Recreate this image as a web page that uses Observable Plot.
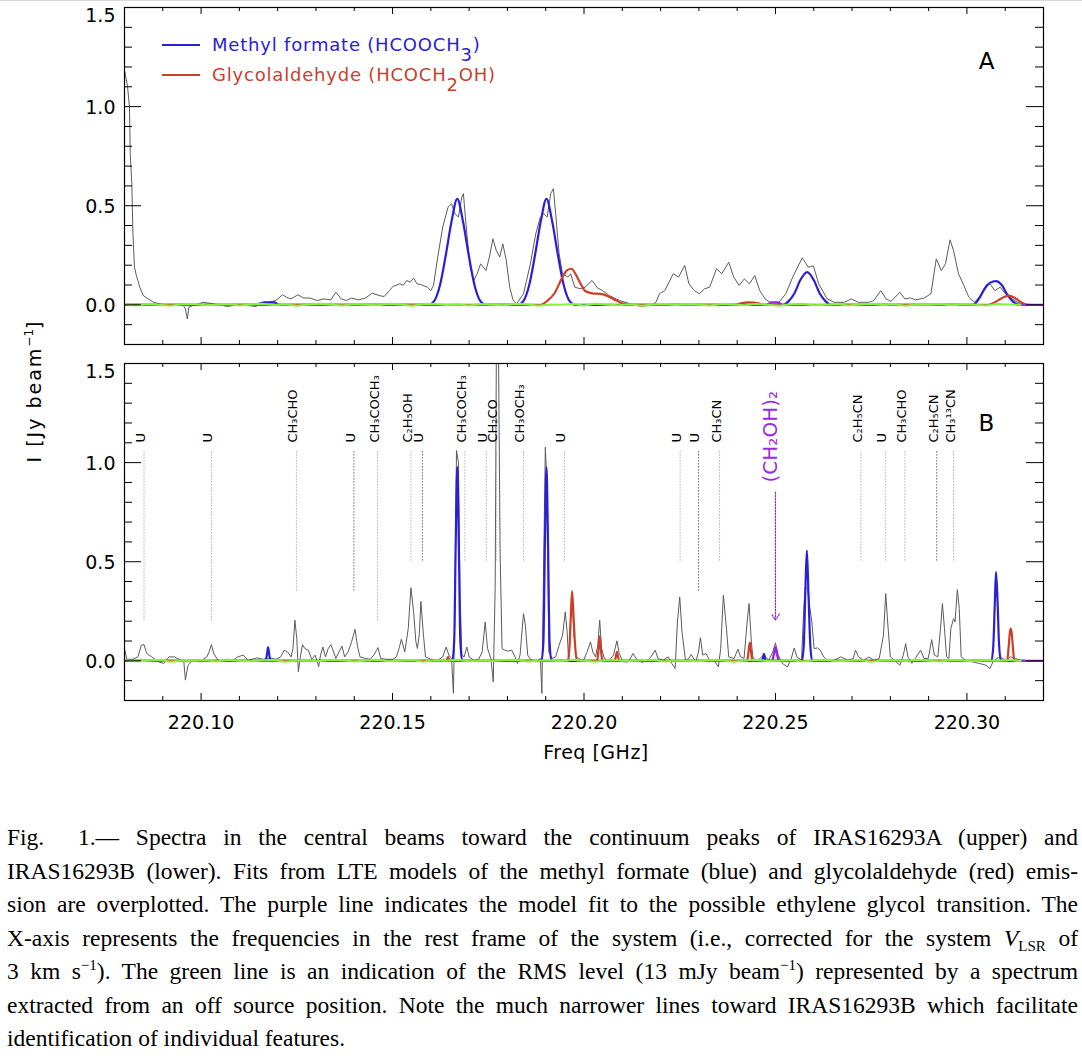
<!DOCTYPE html>
<html>
<head>
<meta charset="utf-8">
<script src="https://cdn.jsdelivr.net/npm/d3@7"></script>
<script src="https://cdn.jsdelivr.net/npm/@observablehq/plot@0.6"></script>
<style>
  body { margin: 0; background: #fff; }
  #wrap { position: relative; width: 1082px; height: 1056px; overflow: hidden; background: #fff; font-family: "DejaVu Sans", sans-serif; }
  #topline { position: absolute; left: 0; top: 0; width: 1082px; height: 1px; background: #d8d8d8; }
  .panel { position: absolute; left: 0; }
  .abs { position: absolute; white-space: nowrap; }
  .legtxt { font-size: 18px; letter-spacing: 0.8px; line-height: 18px; }
  .legtxt sub { font-size: 18px; vertical-align: baseline; position: relative; top: 10px; }
  .sw { position: absolute; height: 2px; width: 38px; }
  #ylab { font-size: 19px; letter-spacing: 2px; transform: translate(-50%, -50%) rotate(-90deg); }
  #ylab sup { font-size: 12px; vertical-align: baseline; position: relative; top: -8px; letter-spacing: 0; }
  #xlab { font-size: 19px; letter-spacing: 0.5px; transform: translate(-50%, -50%); }
  #cap { position: absolute; left: 7px; top: 821px; width: 1071px; font-family: "Liberation Serif", "Times New Roman", serif; font-size: 23.5px; line-height: 33.5px; color: #000; }
  #cap div { text-align: justify; text-align-last: justify; white-space: nowrap; height: 33.5px; }
  #cap div.last { text-align-last: left; }
  #cap sup { font-size: 15px; vertical-align: baseline; position: relative; top: -9px; }
  #cap sub { font-size: 15px; vertical-align: baseline; position: relative; top: 5px; }
</style>
</head>
<body>
<div id="wrap">
  <div id="topline"></div>
  <div id="top" class="panel" style="top:0px"></div>
  <div id="bottom" class="panel" style="top:352px"></div>

  <div class="sw" style="left:162px; top:44px; background:#2b20d6"></div>
  <div class="abs legtxt" style="left:212px; top:36px; color:#2b20d6">Methyl formate (HCOOCH<sub>3</sub>)</div>
  <div class="sw" style="left:162px; top:74px; background:#c8412d"></div>
  <div class="abs legtxt" style="left:212px; top:66px; color:#c8412d">Glycolaldehyde (HCOCH<sub>2</sub>OH)</div>

  <div id="ylab" class="abs" style="left:34px; top:391px">I [Jy beam<sup>−1</sup>]</div>
  <div id="xlab" class="abs" style="left:596px; top:752px">Freq [GHz]</div>

  <div id="cap">
    <div>Fig.&nbsp;&nbsp;1.— Spectra in the central beams toward the continuum peaks of IRAS16293A (upper) and</div>
    <div>IRAS16293B (lower). Fits from LTE models of the methyl formate (blue) and glycolaldehyde (red) emis-</div>
    <div>sion are overplotted. The purple line indicates the model fit to the possible ethylene glycol transition. The</div>
    <div>X-axis represents the frequencies in the rest frame of the system (i.e., corrected for the system <i>V</i><sub>LSR</sub> of</div>
    <div>3 km s<sup>−1</sup>). The green line is an indication of the RMS level (13 mJy beam<sup>−1</sup>) represented by a spectrum</div>
    <div>extracted from an off source position. Note the much narrower lines toward IRAS16293B which facilitate</div>
    <div class="last">identification of individual features.</div>
  </div>
</div>

<script>
// ---------------- DATA ----------------
const freqDomain = [220.08, 220.32];
const intensityDomain = [-0.2, 1.5];
const freqTicksMajor = [220.10, 220.15, 220.20, 220.25, 220.30];
const freqTicksMinor = [220.09, 220.11, 220.12, 220.13, 220.14, 220.16, 220.17, 220.18, 220.19, 220.21, 220.22, 220.23, 220.24, 220.26, 220.27, 220.28, 220.29, 220.31];
const intensityTicksLabelled = [0.0, 0.5, 1.0];
const intensityTickTop = [1.5];
const intensityTicksMajor = [0.0, 0.5, 1.0];
const intensityTicksMinor = [-0.1, 0.1, 0.2, 0.3, 0.4, 0.6, 0.7, 0.8, 0.9, 1.1, 1.2, 1.3, 1.4];

// Panel A: observed spectrum IRAS16293A [freq GHz, Jy/beam]
const spectrumA = [
[220.0801,1.175],[220.0808,1.10],[220.0813,0.998],[220.0815,0.763],[220.0819,0.611],[220.0822,0.359],[220.0826,0.190],[220.0831,0.148],[220.0835,0.123],[220.0840,0.089],[220.0849,0.047],[220.0862,0.030],[220.0876,0.013],[220.0898,0.002],[220.0925,-0.003],[220.0952,0.002],[220.0959,-0.020],[220.0964,-0.071],[220.0968,-0.012],[220.0979,-0.003],[220.1006,0.013],[220.1033,0.005],[220.1069,-0.008],[220.1105,0.002],[220.1141,-0.008],[220.1168,0.008],[220.1195,0.022],[220.1213,0.051],[220.1222,0.039],[220.1235,0.030],[220.1253,0.051],[220.1267,0.035],[220.1285,0.034],[220.1303,0.022],[220.1321,0.030],[220.1339,0.025],[220.1352,0.064],[220.1366,0.030],[220.1379,0.022],[220.1393,0.034],[220.1411,0.025],[220.1429,0.034],[220.1447,0.059],[220.1465,0.047],[220.1478,0.042],[220.1492,0.072],[220.1501,0.093],[220.1519,0.106],[220.1528,0.098],[220.1537,0.123],[220.1546,0.114],[220.1555,0.135],[220.1564,0.106],[220.1573,0.103],[220.1591,0.089],[220.1600,0.072],[220.1607,0.098],[220.1618,0.241],[220.1631,0.392],[220.1645,0.493],[220.1654,0.510],[220.1663,0.460],[220.1672,0.443],[220.1681,0.544],[220.1685,0.561],[220.1694,0.359],[220.1703,0.190],[220.1712,0.123],[220.1721,0.157],[220.1730,0.207],[220.1744,0.173],[220.1753,0.241],[220.1762,0.333],[220.1771,0.274],[220.1780,0.241],[220.1788,0.308],[220.1797,0.224],[220.1806,0.089],[220.1815,0.022],[220.1824,0.005],[220.1842,0.056],[220.1860,0.207],[220.1874,0.359],[220.1886,0.443],[220.1895,0.460],[220.1904,0.443],[220.1913,0.561],[220.1920,0.586],[220.1926,0.460],[220.1935,0.258],[220.1944,0.157],[220.1958,0.140],[220.1965,0.157],[220.1976,0.089],[220.1990,0.081],[220.2003,0.089],[220.2021,0.123],[220.2035,0.086],[220.2048,0.072],[220.2066,0.047],[220.2093,0.022],[220.2121,0.005],[220.2148,-0.008],[220.2175,-0.003],[220.2188,0.013],[220.2197,0.056],[220.2211,0.072],[220.2233,0.157],[220.2247,0.140],[220.2263,0.199],[220.2274,0.106],[220.2288,0.072],[220.2301,0.056],[220.2315,0.081],[220.2328,0.089],[220.2346,0.182],[220.2360,0.157],[220.2378,0.215],[220.2391,0.140],[220.2405,0.098],[220.2419,0.131],[220.2432,0.106],[220.2446,0.148],[220.2459,0.072],[220.2473,0.030],[220.2486,0.013],[220.2509,0.013],[220.2527,0.056],[220.2545,0.140],[220.2570,0.237],[220.2586,0.190],[220.2599,0.197],[220.2613,0.106],[220.2635,0.030],[220.2653,0.013],[220.2680,0.013],[220.2698,0.030],[220.2716,0.013],[220.2744,0.013],[220.2757,0.022],[220.2775,0.072],[220.2789,0.030],[220.2802,0.017],[220.2825,0.064],[220.2838,0.030],[220.2852,0.035],[220.2866,0.025],[220.2888,0.034],[220.2906,0.056],[220.2920,0.232],[220.2933,0.173],[220.2944,0.207],[220.2956,0.328],[220.2965,0.274],[220.2978,0.157],[220.2992,0.098],[220.3005,0.039],[220.3019,0.013],[220.3033,0.039],[220.3051,0.103],[220.3060,0.106],[220.3073,0.072],[220.3087,0.089],[220.3100,0.056],[220.3118,0.030],[220.3132,0.013],[220.3146,0.005]
];
const methylFormateA = [
[220.0800,0],[220.1140,0],[220.1155,0.008],[220.1165,0.012],[220.1190,0.012],[220.1205,0],
[220.1594,0],[220.1609,0.02],[220.1624,0.10],[220.1639,0.25],[220.1654,0.42],[220.1669,0.535],[220.1684,0.42],[220.1699,0.25],[220.1714,0.10],[220.1729,0.02],[220.1744,0],
[220.1827,0],[220.1842,0.02],[220.1857,0.10],[220.1872,0.25],[220.1887,0.42],[220.1902,0.535],[220.1917,0.42],[220.1932,0.25],[220.1947,0.10],[220.1962,0.02],[220.1977,0],
[220.2520,0],[220.2535,0.02],[220.2550,0.06],[220.2565,0.125],[220.2583,0.165],[220.2600,0.125],[220.2615,0.06],[220.2630,0.02],[220.2645,0],
[220.3016,0],[220.3031,0.03],[220.3046,0.08],[220.3061,0.112],[220.3076,0.12],[220.3091,0.10],[220.3106,0.05],[220.3121,0.015],[220.3136,0]
];
const glycolaldehydeA = [
[220.0800,0],[220.1886,0],[220.1904,0.02],[220.1922,0.056],[220.1944,0.14],[220.1956,0.175],[220.1967,0.182],[220.1978,0.155],[220.1990,0.11],[220.2003,0.07],[220.2021,0.058],[220.2044,0.055],[220.2066,0.04],[220.2084,0.022],[220.2102,0.006],[220.2120,0],
[220.2395,0],[220.2410,0.008],[220.2430,0.012],[220.2455,0.008],[220.2470,0],
[220.3055,0],[220.3075,0.015],[220.3092,0.035],[220.3109,0.047],[220.3125,0.035],[220.3140,0.015],[220.3159,0],[220.3165,0]
];
const ethyleneGlycolA = [
[[220.2478,0],[220.2490,0.012],[220.2505,0.012],[220.2518,0]],
[[220.3130,0],[220.3200,0]]
];
const offSourceStart = 220.080, offSourceStep = 0.003;
const offSourceA = [0.002,-0.003,0.004,0.001,-0.004,0.003,0.005,-0.002,0.001,0.004,-0.003,0.002,0.006,-0.001,0.003,-0.004,0.002,0.005,0.000,-0.003,0.004,0.001,-0.002,0.005,0.002,-0.004,0.003,0.006,-0.001,0.002,-0.003,0.004,0.001,-0.002,0.005,0.003,-0.004,0.002,0.000,0.004,-0.003,0.006,0.001,-0.002,0.003,-0.005,0.002,0.004,-0.001,0.003,0.000,-0.003,0.005,0.002,-0.002,0.004,0.001,-0.004,0.003,0.006,-0.002,0.001,0.004,-0.003,0.002,0.005,-0.001,0.003,-0.004,0.002,0.000,0.004,-0.002,0.003,0.001,-0.003,0.004,0.002,0.000];

// Panel B: observed spectrum IRAS16293B
const spectrumB = [
[220.0801,0.054],[220.0806,0.008],[220.0822,0.008],[220.0835,0.020],[220.0844,0.079],[220.0851,0.082],[220.0858,0.037],[220.0871,0.020],[220.0889,-0.005],[220.0903,-0.013],[220.0916,0.020],[220.0930,0.020],[220.0948,0.003],[220.0955,-0.005],[220.0959,-0.097],[220.0966,-0.022],[220.0979,0.003],[220.0997,-0.005],[220.1015,0.020],[220.1021,0.045],[220.1027,0.082],[220.1033,0.037],[220.1047,-0.005],[220.1065,0.008],[220.1083,0.003],[220.1096,0.020],[220.1110,0.029],[220.1123,0.003],[220.1146,0.015],[220.1163,0.008],[220.1181,0.015],[220.1195,0.008],[220.1208,0.020],[220.1217,0.054],[220.1226,0.045],[220.1235,0.020],[220.1240,0.062],[220.1245,0.205],[220.1250,0.112],[220.1254,-0.055],[220.1260,0.029],[220.1265,0.082],[220.1271,0.062],[220.1280,0.054],[220.1289,0.008],[220.1298,0.029],[220.1307,-0.030],[220.1312,0.029],[220.1318,0.070],[220.1325,0.020],[220.1332,0.062],[220.1339,0.082],[220.1346,0.045],[220.1352,0.012],[220.1360,0.045],[220.1368,0.074],[220.1375,0.020],[220.1384,0.045],[220.1393,0.096],[220.1402,0.159],[220.1408,0.079],[220.1415,0.020],[220.1429,0.012],[220.1442,0.008],[220.1451,0.029],[220.1462,0.067],[220.1469,0.012],[220.1483,0.008],[220.1501,0.008],[220.1510,0.020],[220.1517,0.062],[220.1523,0.109],[220.1532,0.045],[220.1541,0.163],[220.1548,0.369],[220.1555,0.247],[220.1561,0.096],[220.1565,0.062],[220.1570,0.138],[220.1574,0.300],[220.1580,0.146],[220.1586,0.020],[220.1600,0.008],[220.1618,0.003],[220.1631,0.020],[220.1640,0.070],[220.1647,0.029],[220.1654,0.012],[220.1659,-0.164],[220.1663,0.280],[220.1667,1.061],[220.1672,1.002],[220.1676,0.364],[220.1681,0.029],[220.1687,0.020],[220.1694,0.070],[220.1700,0.020],[220.1712,0.003],[220.1725,0.008],[220.1734,0.045],[220.1742,0.196],[220.1748,0.062],[220.1757,0.012],[220.1763,-0.106],[220.1768,0.364],[220.1771,1.70],[220.1777,1.70],[220.1781,0.532],[220.1786,0.062],[220.1793,0.054],[220.1802,0.049],[220.1811,0.054],[220.1820,0.020],[220.1826,-0.013],[220.1833,0.029],[220.1842,0.238],[220.1847,0.180],[220.1853,0.029],[220.1860,0.008],[220.1874,-0.005],[220.1886,0.012],[220.1890,-0.164],[220.1895,0.532],[220.1899,1.078],[220.1904,0.868],[220.1908,0.045],[220.1917,0.012],[220.1926,0.020],[220.1935,0.079],[220.1944,0.129],[220.1951,0.247],[220.1956,0.146],[220.1960,-0.005],[220.1965,0.213],[220.1970,0.280],[220.1974,0.129],[220.1980,0.020],[220.1990,0.008],[220.1999,0.003],[220.2008,0.045],[220.2017,0.096],[220.2023,0.045],[220.2030,0.020],[220.2036,0.079],[220.2041,0.205],[220.2046,0.062],[220.2053,0.012],[220.2066,0.003],[220.2077,0.029],[220.2086,0.101],[220.2092,0.037],[220.2102,-0.005],[220.2116,-0.005],[220.2128,0.037],[220.2139,0.003],[220.2152,-0.008],[220.2166,0.003],[220.2175,0.020],[220.2186,0.054],[220.2193,0.012],[220.2206,0.003],[220.2220,0.020],[220.2229,-0.013],[220.2238,-0.039],[220.2244,0.196],[220.2250,0.322],[220.2256,0.146],[220.2265,0.003],[220.2274,0.012],[220.2280,0.032],[220.2292,-0.005],[220.2299,0.045],[220.2304,0.117],[220.2310,0.029],[220.2319,0.037],[220.2328,0.003],[220.2342,-0.005],[220.2351,-0.030],[220.2357,0.062],[220.2364,0.331],[220.2372,0.163],[220.2378,0.020],[220.2392,0.012],[220.2402,0.059],[220.2409,0.020],[220.2418,0.012],[220.2426,0.196],[220.2431,0.289],[220.2437,0.096],[220.2441,0.020],[220.2450,-0.005],[220.2464,0.020],[220.2471,0.029],[220.2482,0.003],[220.2493,0.045],[220.2500,0.091],[220.2507,0.029],[220.2518,-0.013],[220.2531,-0.030],[220.2540,0.003],[220.2549,0.065],[220.2556,0.020],[220.2568,0.003],[220.2574,0.264],[220.2578,0.373],[220.2584,0.364],[220.2589,0.280],[220.2595,0.196],[220.2601,0.062],[220.2610,0.065],[220.2617,0.054],[220.2626,0.020],[220.2640,-0.005],[220.2653,0.003],[220.2671,0.020],[220.2689,0.003],[220.2703,0.012],[220.2709,0.054],[220.2717,0.020],[220.2730,0.003],[220.2744,0.020],[220.2757,0.003],[220.2771,0.012],[220.2782,0.129],[220.2788,0.339],[220.2793,0.196],[220.2800,0.020],[220.2811,0.003],[220.2825,-0.022],[220.2834,0.029],[220.2840,0.087],[220.2846,0.020],[220.2856,-0.013],[220.2865,0.012],[220.2879,0.054],[220.2888,0.012],[220.2899,0.012],[220.2908,0.107],[220.2915,0.029],[220.2924,0.020],[220.2931,0.163],[220.2936,0.289],[220.2940,0.196],[220.2947,0.020],[220.2953,0.012],[220.2958,0.163],[220.2965,0.213],[220.2969,0.196],[220.2975,0.359],[220.2980,0.264],[220.2985,0.020],[220.2996,0.003],[220.3014,-0.005],[220.3032,-0.013],[220.3050,-0.022],[220.3060,-0.039],[220.3068,-0.005],[220.3078,0.012],[220.3087,0.020],[220.3100,0.003],[220.3114,0.020],[220.3127,0.012],[220.3145,-0.002]
];
const methylFormateB = [
[220.0800,0],[220.1167,0],[220.1171,0.02],[220.1175,0.07],[220.1179,0.02],[220.1183,0],
[220.1656,0],[220.1661,0.10],[220.1665,0.60],[220.1669,0.977],[220.1673,0.60],[220.1677,0.10],[220.1682,0],
[220.1889,0],[220.1894,0.10],[220.1898,0.60],[220.1902,0.977],[220.1906,0.60],[220.1910,0.10],[220.1915,0],
[220.2465,0],[220.2470,0.035],[220.2474,0],
[220.2569,0],[220.2574,0.08],[220.2578,0.35],[220.2582,0.557],[220.2586,0.35],[220.2591,0.08],[220.2596,0],
[220.3064,0],[220.3069,0.08],[220.3073,0.30],[220.3076,0.448],[220.3080,0.30],[220.3084,0.08],[220.3089,0],
[220.3150,0]
];
const glycolaldehydeB = [
[220.0800,0],[220.1641,0],[220.1645,0.02],[220.1649,0],
[220.1958,0],[220.1963,0.10],[220.1966,0.25],[220.1969,0.352],[220.1972,0.25],[220.1976,0.10],[220.1981,0],
[220.2034,0],[220.2038,0.06],[220.2041,0.124],[220.2044,0.06],[220.2048,0],
[220.2080,0],[220.2083,0.02],[220.2086,0.045],[220.2089,0.02],[220.2092,0],
[220.2426,0],[220.2430,0.05],[220.2433,0.092],[220.2436,0.05],[220.2440,0],
[220.3105,0],[220.3109,0.07],[220.3112,0.14],[220.3114,0.163],[220.3117,0.14],[220.3120,0.07],[220.3124,0],[220.3150,0]
];
const ethyleneGlycolB = [
[[220.2492,0],[220.2496,0.035],[220.2500,0.069],[220.2504,0.035],[220.2508,0]],
[[220.3145,0],[220.3200,0]]
];
const offSourceB = [0.003,-0.002,0.001,0.005,-0.004,0.002,0.000,0.004,-0.003,0.006,0.001,-0.002,0.003,0.004,-0.005,0.002,0.001,-0.001,0.005,0.003,-0.003,0.002,0.006,-0.002,0.000,0.004,-0.004,0.003,0.001,0.005,-0.002,0.002,-0.001,0.004,0.006,-0.003,0.001,0.003,-0.002,0.005,0.000,-0.004,0.004,0.002,-0.001,0.003,0.006,-0.003,0.002,0.001,-0.002,0.004,0.003,-0.005,0.002,0.005,-0.001,0.000,0.004,-0.003,0.003,0.006,-0.002,0.001,0.004,-0.004,0.002,0.003,-0.001,0.005,0.000,-0.003,0.004,0.002,-0.002,0.003,0.001,0.004,-0.001];

// Line identifications in panel B
const lineIds   = ["U","U","CH₃CHO","U","CH₃COCH₃","C₂H₅OH","U","CH₃COCH₃","U","CH₂CO","CH₃OCH₃","U","U","U","CH₃CN","C₂H₅CN","U","CH₃CHO","C₂H₅CN","CH₃¹³CN"];
const lineFreqs = [220.0851,220.1027,220.1249,220.1399,220.1461,220.1548,220.1578,220.1689,220.1745,220.1771,220.1842,220.1949,220.2251,220.2299,220.2354,220.2723,220.2787,220.2838,220.2921,220.2965];
const lineMarkTop = 1.054;
const lineMarkLow = [0.197,0.197,0.353,0.353,0.197,0.5,0.5,0.5,0.5,0.5,0.5,0.5,0.5,0.353,0.5,0.5,0.5,0.5,0.5,0.5];
const candidateId = "(CH₂OH)₂";
const candidateFreq = 220.2500;
const candidateRange = [0.851, 0.205];

// ---------------- STYLE ----------------
const GRAY = "#5c5c5c", BLUE = "#2b20d6", RED = "#cc3f26", PURPLE = "#9a28e6", GREEN = "#86f23c";
const W = 1082, ML = 124, MR = 39;
const PW = W - ML - MR;
const darkMarkers = new Set([3, 6, 13, 18]);

function offSource(arr) { return arr.map((v, i) => [offSourceStart + i * offSourceStep, v]); }

function panel({height, marginTop, marginBottom, obs, mf, ga, eg, off, panelLetter, showX, extra = []}) {
  const PH = height - marginTop - marginBottom;
  const xy = {x: d => d[0], y: d => d[1]};
  const marks = [
    Plot.line(obs, {...xy, stroke: GRAY, strokeWidth: 1, clip: true}),
    Plot.line(mf, {...xy, stroke: BLUE, strokeWidth: 2.2, curve: "monotone-x", clip: true}),
    Plot.line(ga, {...xy, stroke: RED, strokeWidth: 2.2, curve: "monotone-x", clip: true}),
    ...eg.map(seg => Plot.line(seg, {...xy, stroke: PURPLE, strokeWidth: 2.4, curve: "monotone-x", clip: true})),
    Plot.line(offSource(off), {...xy, stroke: GREEN, strokeWidth: 2, clip: true}),
    ...extra,
    // inward ticks on all four sides
    Plot.tickY(intensityTicksMajor, {y: d => d, insetRight: PW - 17, stroke: "black"}),
    Plot.tickY(intensityTicksMinor, {y: d => d, insetRight: PW - 8, stroke: "black"}),
    Plot.tickY(intensityTicksMajor, {y: d => d, insetLeft: PW - 17, stroke: "black"}),
    Plot.tickY(intensityTicksMinor, {y: d => d, insetLeft: PW - 8, stroke: "black"}),
    Plot.tickX(freqTicksMajor, {x: d => d, insetTop: PH - 7, stroke: "black"}),
    Plot.tickX(freqTicksMinor, {x: d => d, insetTop: PH - 4, stroke: "black"}),
    Plot.tickX(freqTicksMajor, {x: d => d, insetBottom: PH - 7, stroke: "black"}),
    Plot.tickX(freqTicksMinor, {x: d => d, insetBottom: PH - 4, stroke: "black"}),
    Plot.axisY({ticks: intensityTicksLabelled, anchor: "left", tickSize: 0, tickPadding: 9, tickFormat: d3.format(".1f"), label: null, fontSize: 19, dy: 1}),
    Plot.axisY({ticks: intensityTickTop, anchor: "left", tickSize: 0, tickPadding: 9, tickFormat: d3.format(".1f"), label: null, fontSize: 19, dy: 8}),
    Plot.text([panelLetter], {frameAnchor: "top-right", text: d => d, dx: -57, dy: panelLetter === "A" ? 45 : 51, fontSize: 23, lineAnchor: "top", textAnchor: "middle", fill: "black"}),
    Plot.frame({stroke: "black", strokeWidth: 1.2})
  ];
  if (showX) {
    marks.push(Plot.axisX({ticks: freqTicksMajor, anchor: "bottom", tickSize: 0, tickPadding: 15, tickFormat: d3.format(".2f"), label: null, fontSize: 19}));
  }
  return Plot.plot({
    width: W, height, marginLeft: ML, marginRight: MR, marginTop, marginBottom,
    x: {domain: freqDomain, axis: null},
    y: {domain: intensityDomain, clamp: true, axis: null},
    style: {fontFamily: "DejaVu Sans, sans-serif", fontSize: "19px", color: "black", background: "transparent", overflow: "visible"},
    marks
  });
}

const labels = lineIds.map((t, i) => ({t, f: lineFreqs[i], low: lineMarkLow[i], dark: darkMarkers.has(i)}));
const extraB = [
  Plot.ruleX(labels.filter(d => !d.dark), {x: "f", y1: () => lineMarkTop, y2: "low", stroke: "#8a8a8a", strokeWidth: 1, strokeDasharray: "1,2"}),
  Plot.ruleX(labels.filter(d => d.dark), {x: "f", y1: () => lineMarkTop, y2: "low", stroke: "#222", strokeWidth: 1, strokeDasharray: "1,2"}),
  Plot.text(labels, {x: "f", y: () => 1.101, text: "t", rotate: -90, textAnchor: "start", lineAnchor: "bottom", fontSize: 13, fill: "black", dx: 1}),
  Plot.arrow([candidateFreq], {x: d => d, y1: () => candidateRange[0], y2: () => candidateRange[1], stroke: PURPLE, strokeWidth: 1.2, strokeDasharray: "1.5,1.5", headLength: 9, headAngle: 64}),
  Plot.text([candidateId], {x: () => candidateFreq, y: () => 0.9, text: d => d, rotate: -90, textAnchor: "start", lineAnchor: "bottom", fontSize: 20, fill: PURPLE, dx: 2})
];

document.getElementById("top").appendChild(panel({
  height: 352, marginTop: 7, marginBottom: 8,
  obs: spectrumA, mf: methylFormateA, ga: glycolaldehydeA, eg: ethyleneGlycolA, off: offSourceA,
  panelLetter: "A", showX: false
}));
document.getElementById("bottom").appendChild(panel({
  height: 410, marginTop: 11, marginBottom: 62,
  obs: spectrumB, mf: methylFormateB, ga: glycolaldehydeB, eg: ethyleneGlycolB, off: offSourceB,
  panelLetter: "B", showX: true, extra: extraB
}));
</script>
</body>
</html>
